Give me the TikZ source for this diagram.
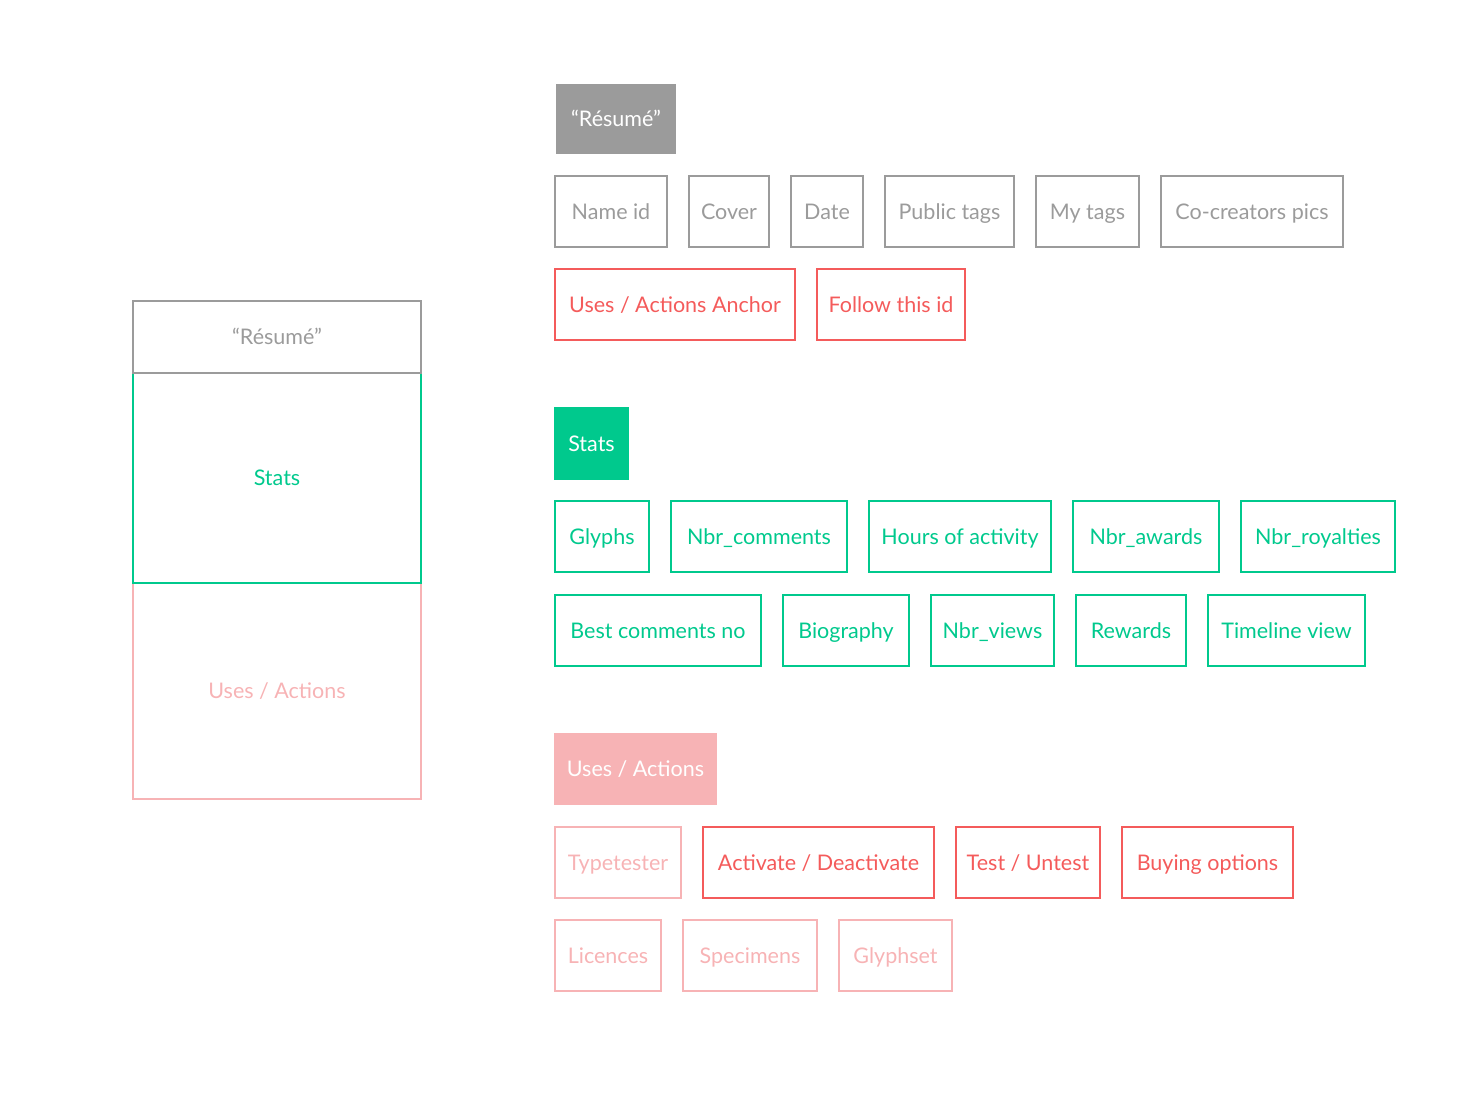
\documentclass[tikz,border=0pt]{standalone}
\usepackage{fontspec}
\setmainfont{Lato}
\usetikzlibrary{positioning}

\definecolor{resgray}{HTML}{9B9B9B}
\definecolor{statgreen}{HTML}{00C98D}
\definecolor{userred}{HTML}{F45B5B}
\definecolor{usepink}{HTML}{F7B3B5}

\begin{document}
\begin{tikzpicture}[
    x=1pt, y=-1pt,
    node distance=22pt and 22pt,
    every node/.style={font=\fontsize{21.5}{25}\selectfont, inner sep=0pt, outer sep=0pt, text height=15.5pt, text depth=0pt},
    item/.style={rectangle, line width=2pt, minimum height=71pt, anchor=north west},
    graybox/.style={item, draw=resgray, text=resgray},
    greenbox/.style={item, draw=statgreen, text=statgreen},
    redbox/.style={item, draw=userred, text=userred},
    pinkbox/.style={item, draw=usepink, text=usepink},
    head/.style={rectangle, minimum height=70pt, anchor=north west, text=white},
    panel/.style={rectangle, line width=2pt, minimum width=288pt, anchor=north}
]
    \useasboundingbox (0,0) rectangle (1470,1100);

    % left overview column
    \node[panel, draw=usepink, text=usepink, minimum height=216pt] (pUses) at (277,583) {Uses / Actions};
    \node[panel, draw=statgreen, text=statgreen, minimum height=210pt] (pStats) at (277,373) {Stats};
    \node[panel, draw=resgray, text=resgray, minimum height=72pt] (pResume) at (277,301) {“Résumé”};

    % Résumé group
    \node[head, fill=resgray, minimum width=120pt] (hResume) at (556,84) {“Résumé”};
    \node[graybox, minimum width=112pt] (nameid) at (555,176) {Name id};
    \node[graybox, minimum width=80pt, right=of nameid] (cover) {Cover};
    \node[graybox, minimum width=72pt, right=of cover] (date) {Date};
    \node[graybox, minimum width=129pt, right=of date] (pubtags) {Public tags};
    \node[graybox, minimum width=103pt, right=of pubtags] (mytags) {My tags};
    \node[graybox, minimum width=182pt, right=of mytags] (cocreators) {Co-creators pics};
    \node[redbox, minimum width=240pt] (anchor) at (555,269) {Uses / Actions Anchor};
    \node[redbox, minimum width=148pt, right=of anchor] (follow) {Follow this id};

    % Stats group
    \node[head, fill=statgreen, minimum width=75pt, minimum height=73pt] (hStats) at (554,407) {Stats};
    \node[greenbox, minimum width=94pt] (glyphs) at (555,501) {Glyphs};
    \node[greenbox, minimum width=176pt, right=of glyphs] (comments) {Nbr\_comments};
    \node[greenbox, minimum width=182pt, right=of comments] (hours) {Hours of activity};
    \node[greenbox, minimum width=146pt, right=of hours] (awards) {Nbr\_awards};
    \node[greenbox, minimum width=154pt, right=of awards] (royalties) {Nbr\_royalties};
    \node[greenbox, minimum width=206pt] (bestcom) at (555,595) {Best comments no};
    \node[greenbox, minimum width=126pt, right=of bestcom] (bio) {Biography};
    \node[greenbox, minimum width=123pt, right=of bio] (views) {Nbr\_views};
    \node[greenbox, minimum width=110pt, right=of views] (rewards) {Rewards};
    \node[greenbox, minimum width=157pt, right=of rewards] (timeline) {Timeline view};

    % Uses / Actions group
    \node[head, fill=usepink, minimum width=163pt, minimum height=72pt] (hUses) at (554,733) {Uses / Actions};
    \node[pinkbox, minimum width=126pt] (typetester) at (555,827) {Typetester};
    \node[redbox, minimum width=231pt, right=of typetester] (activate) {Activate / Deactivate};
    \node[redbox, minimum width=144pt, right=of activate] (test) {Test / Untest};
    \node[redbox, minimum width=171pt, right=of test] (buying) {Buying options};
    \node[pinkbox, minimum width=106pt] (licences) at (555,920) {Licences};
    \node[pinkbox, minimum width=134pt, right=of licences] (specimens) {Specimens};
    \node[pinkbox, minimum width=113pt, right=of specimens] (glyphset) {Glyphset};
\end{tikzpicture}
\end{document}
